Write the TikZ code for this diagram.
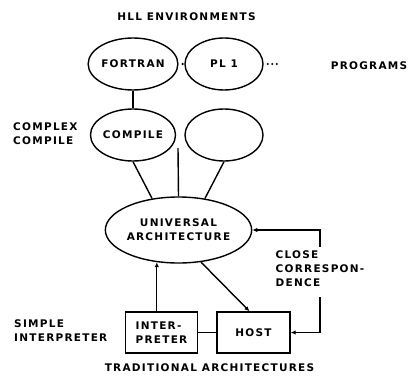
\documentclass[tikz,border=0pt]{standalone}
\usepackage{fontspec}
\newfontfamily\lettering[LetterSpace=12]{DejaVu Sans}
\usetikzlibrary{shapes.geometric,arrows.meta}
\tikzset{
  env/.style={ellipse, draw, line width=1.4pt, minimum width=76pt, minimum height=52pt, inner sep=0pt, align=center},
  box/.style={rectangle, draw, line width=1.4pt, minimum width=72pt, minimum height=41pt, inner sep=0pt, align=left},
  caption/.style={align=left, inner sep=0pt},
  link/.style={line width=1.4pt},
  arr/.style={line width=1.4pt, -{Latex[length=5pt,width=4.5pt]}},
  dots/.style={line width=2.4pt, line cap=round, dash pattern=on 0pt off 4.5pt}
}
\begin{document}
\begin{tikzpicture}[x=1pt, y=-1pt, font=\lettering\bfseries\fontsize{10.5}{14}\selectfont]
  \useasboundingbox (0,0) rectangle (409,385);
  \node[caption] (hll) at (186.5,17) {HLL ENVIRONMENTS};
  \node[env, minimum width=78pt] (fortran) at (133,64) {FORTRAN};
  \node[env, minimum width=78pt] (plone) at (224,64) {PL 1};
  \coordinate (more) at (277,64);
  \node[caption] (progs) at (369,66) {PROGRAMS};
  \draw[dots, shorten <=4pt, shorten >=3.5pt] (fortran.east) -- (plone.west);
  \draw[dots, shorten <=4pt] (plone.east) -- (more);

  \node[env] (compile) at (133,135) {COMPILE};
  \node[env, minimum width=78pt] (blank) at (224,135) {};
  \node[caption, anchor=west] (cxlabel) at (13,134) {COMPLEX\\COMPILE};
  \draw[link] (fortran) -- (compile);

  \node[env, minimum width=114pt, minimum height=66pt] (ua) at (178.5,230) {UNIVERSAL\\ARCHITECTURE};
  \coordinate (mid) at (178,148);
  \draw[link] (compile.south) -- (ua.130);
  \draw[link] (mid) -- (ua.north);
  \draw[link] (blank.south) -- (ua.50);

  \node[box] (interp) at (161.5,332.5) {INTER-\\PRETER};
  \node[box, minimum width=73pt] (host) at (253.5,332.5) {HOST};
  \node[caption, anchor=west] (simple) at (14,330.5) {SIMPLE\\INTERPRETER};
  \draw[arr] (interp.north -| ua.236) -- (ua.236);
  \draw[arr] (ua.-55) -- ([xshift=-4pt]host.north);
  \draw[link] (interp) -- (host);

  \node[caption] (close) at (320,269) {CLOSE\\CORRESPON-\\DENCE};
  \draw[arr] ([yshift=4pt]close.north) |- (ua.east);
  \draw[arr] ([yshift=-10pt]close.south) |- (host.east);

  \node[caption] (trad) at (209.5,368) {TRADITIONAL ARCHITECTURES};
\end{tikzpicture}
\end{document}
